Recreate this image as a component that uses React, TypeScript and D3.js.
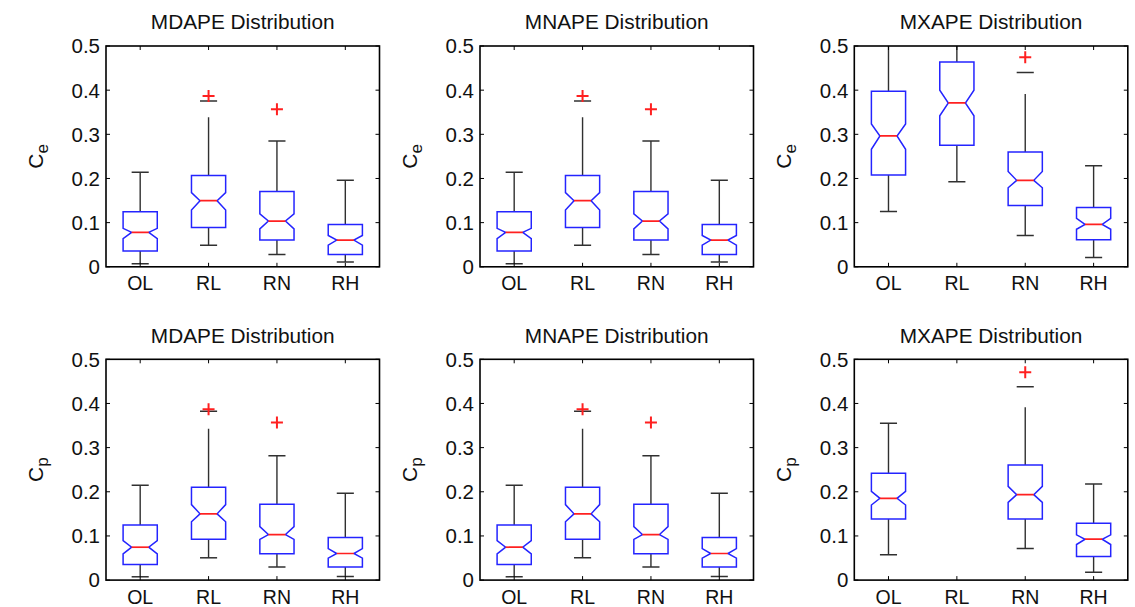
import React from "react";
import * as d3 from "d3";

// ---------- categories & ticks ----------
const categories = ["OL", "RL", "RN", "RH"];
const yTicks = [0, 0.1, 0.2, 0.3, 0.4, 0.5];
const titles = ["MDAPE Distribution", "MNAPE Distribution", "MXAPE Distribution"];
const rowSubscripts = ["e", "p"];

// ---------- Ce, MDAPE / MNAPE ----------
const ceMdLo = [0.007, 0.049, 0.028, 0.0106];
const ceMdQ1 = [0.0355, 0.0892, 0.0605, 0.028];
const ceMdMed = [0.078, 0.1497, 0.1036, 0.0605];
const ceMdQ3 = [0.1247, 0.207, 0.1708, 0.096];
const ceMdHi = [0.214, 0.3757, 0.285, 0.196];
const ceMdLineHi = [0.214, 0.3386, 0.285, 0.196];
const ceMdNotchLo = [0.064, 0.1285, 0.086, 0.049];
const ceMdNotchHi = [0.087, 0.168, 0.12, 0.071];
const ceMdOutliers = [[], [0.387], [0.357], []];

// ---------- Ce, MXAPE ----------
const ceMxLo = [0.1255, 0.1927, 0.071, 0.0212];
const ceMxQ1 = [0.2079, 0.275, 0.139, 0.0612];
const ceMxMed = [0.2963, 0.371, 0.1958, 0.096];
const ceMxQ3 = [0.3976, 0.464, 0.26, 0.1345];
const ceMxHi = [0.56, 0.58, 0.44, 0.229];
const ceMxLineHi = [0.56, 0.58, 0.3915, 0.229];
const ceMxNotchLo = [0.266, 0.342, 0.179, 0.085];
const ceMxNotchHi = [0.3235, 0.4, 0.216, 0.1096];
const ceMxOutliers = [[], [], [0.4747], []];

// ---------- Cp, MDAPE / MNAPE ----------
const cpMdLo = [0.0075, 0.0505, 0.0294, 0.0083];
const cpMdQ1 = [0.0354, 0.0926, 0.0595, 0.0294];
const cpMdMed = [0.0745, 0.15, 0.1032, 0.0602];
const cpMdQ3 = [0.125, 0.21, 0.1717, 0.0964];
const cpMdHi = [0.2146, 0.3825, 0.2816, 0.1965];
const cpMdLineHi = [0.2146, 0.3426, 0.2816, 0.1965];
const cpMdNotchLo = [0.0595, 0.132, 0.092, 0.0497];
const cpMdNotchHi = [0.0896, 0.171, 0.121, 0.0715];
const cpMdOutliers = [[], [0.387], [0.357], []];

// ---------- Cp, MXAPE (no RL box) ----------
const cpMxLo = [0.0572, null, 0.0715, 0.018];
const cpMxQ1 = [0.1386, null, 0.1386, 0.0535];
const cpMxMed = [0.1852, null, 0.1935, 0.0926];
const cpMxQ3 = [0.2417, null, 0.2605, 0.1288];
const cpMxHi = [0.3554, null, 0.438, 0.2176];
const cpMxLineHi = [0.3554, null, 0.3916, 0.2176];
const cpMxNotchLo = [0.17, null, 0.176, 0.0806];
const cpMxNotchHi = [0.201, null, 0.2123, 0.1024];
const cpMxOutliers = [[], [], [0.4706], []];

type Stats = {
  lo: (number | null)[]; q1: (number | null)[]; med: (number | null)[]; q3: (number | null)[];
  hi: (number | null)[]; lineHi: (number | null)[]; nLo: (number | null)[]; nHi: (number | null)[];
  out: number[][];
};

const ceMd: Stats = { lo: ceMdLo, q1: ceMdQ1, med: ceMdMed, q3: ceMdQ3, hi: ceMdHi, lineHi: ceMdLineHi, nLo: ceMdNotchLo, nHi: ceMdNotchHi, out: ceMdOutliers };
const ceMx: Stats = { lo: ceMxLo, q1: ceMxQ1, med: ceMxMed, q3: ceMxQ3, hi: ceMxHi, lineHi: ceMxLineHi, nLo: ceMxNotchLo, nHi: ceMxNotchHi, out: ceMxOutliers };
const cpMd: Stats = { lo: cpMdLo, q1: cpMdQ1, med: cpMdMed, q3: cpMdQ3, hi: cpMdHi, lineHi: cpMdLineHi, nLo: cpMdNotchLo, nHi: cpMdNotchHi, out: cpMdOutliers };
const cpMx: Stats = { lo: cpMxLo, q1: cpMxQ1, med: cpMxMed, q3: cpMxQ3, hi: cpMxHi, lineHi: cpMxLineHi, nLo: cpMxNotchLo, nHi: cpMxNotchHi, out: cpMxOutliers };

const panelStats: Stats[][] = [
  [ceMd, ceMd, ceMx],
  [cpMd, cpMd, cpMx],
];

// ---------- layout ----------
const W = 1135, H = 607;
const colLefts = [106, 480, 854.3];
const rowTops = [46, 359.3];
const axW = 273.5;
const axH = 220.8;
const FONT = "'Liberation Sans', Arial, Helvetica, sans-serif";
const BLUE = "#2424ff";
const RED = "#ff2020";
const WHISK = "#303030";

function Panel({ row, col }: { row: number; col: number }) {
  const left = colLefts[col];
  const top = rowTops[row];
  const st = panelStats[row][col];
  const x = d3.scaleLinear().domain([0.5, 4.5]).range([left, left + axW]);
  const y = d3.scaleLinear().domain([0, 0.5]).range([top + axH, top]);
  const clipId = `clip-${row}-${col}`;
  const boxHalf = x(0.25) - x(0);
  const capHalf = x(0.125) - x(0);
  const tick = 4;

  return (
    <g>
      <defs>
        <clipPath id={clipId}>
          <rect x={left} y={top} width={axW} height={axH} />
        </clipPath>
      </defs>
      {/* title */}
      <text x={left + axW / 2} y={top - 16.7} textAnchor="middle" fontSize={20.8} fontFamily={FONT} fill="#111">
        {titles[col]}
      </text>
      {/* y label */}
      <text
        transform={`translate(${left - 63},${top + axH / 2}) rotate(-90)`}
        textAnchor="middle"
        fontSize={21}
        fontFamily={FONT}
        fill="#111"
      >
        C<tspan fontSize={17} dy={5}>{rowSubscripts[row]}</tspan>
      </text>
      {/* boxes */}
      <g clipPath={`url(#${clipId})`}>
        {categories.map((c, i) => {
          const q1 = st.q1[i];
          if (q1 == null) return null;
          const q3 = st.q3[i] as number;
          const med = st.med[i] as number;
          const lo = st.lo[i] as number;
          const hi = st.hi[i] as number;
          const lineHi = st.lineHi[i] as number;
          const nLo = st.nLo[i] as number;
          const nHi = st.nHi[i] as number;
          const xc = x(i + 1);
          const x0 = xc - boxHalf, x1 = xc + boxHalf;
          const nx0 = xc - boxHalf / 2, nx1 = xc + boxHalf / 2;
          const pts: [number, number][] = [
            [x0, y(q3)], [x1, y(q3)], [x1, y(nHi)], [nx1, y(med)], [x1, y(nLo)],
            [x1, y(q1)], [x0, y(q1)], [x0, y(nLo)], [nx0, y(med)], [x0, y(nHi)],
          ];
          const line = d3.line();
          return (
            <g key={c}>
              <line x1={xc} x2={xc} y1={y(q3)} y2={y(lineHi)} stroke={WHISK} strokeWidth={1.4} />
              <line x1={xc} x2={xc} y1={y(q1)} y2={y(lo)} stroke={WHISK} strokeWidth={1.4} />
              <line x1={xc - capHalf} x2={xc + capHalf} y1={y(hi)} y2={y(hi)} stroke={WHISK} strokeWidth={1.5} />
              <line x1={xc - capHalf} x2={xc + capHalf} y1={y(lo)} y2={y(lo)} stroke={WHISK} strokeWidth={1.5} />
              <path d={(line(pts) as string) + "Z"} fill="none" stroke={BLUE} strokeWidth={1.5} />
              <line x1={nx0} x2={nx1} y1={y(med)} y2={y(med)} stroke={RED} strokeWidth={1.7} />
              {st.out[i].map((v, k) => (
                <g key={k} stroke={RED} strokeWidth={2}>
                  <line x1={xc - 6} x2={xc + 6} y1={y(v)} y2={y(v)} />
                  <line x1={xc} x2={xc} y1={y(v) - 6} y2={y(v) + 6} />
                </g>
              ))}
            </g>
          );
        })}
      </g>
      {/* axis box */}
      <rect x={left} y={top} width={axW} height={axH} fill="none" stroke="#000" strokeWidth={1.6} />
      {/* y ticks */}
      {yTicks.map((t) => (
        <g key={t}>
          <line x1={left} x2={left + tick} y1={y(t)} y2={y(t)} stroke="#000" strokeWidth={1} />
          <line x1={left + axW} x2={left + axW - tick} y1={y(t)} y2={y(t)} stroke="#000" strokeWidth={1} />
          <text x={left - 6} y={y(t)} dy="0.36em" textAnchor="end" fontSize={20.5} fontFamily={FONT} fill="#111">
            {d3.format("")(t)}
          </text>
        </g>
      ))}
      {/* x ticks */}
      {categories.map((c, i) => (
        <g key={c}>
          <line x1={x(i + 1)} x2={x(i + 1)} y1={top + axH} y2={top + axH - tick} stroke="#000" strokeWidth={1} />
          <line x1={x(i + 1)} x2={x(i + 1)} y1={top} y2={top + tick} stroke="#000" strokeWidth={1} />
          <text x={x(i + 1)} y={top + axH + 23.5} textAnchor="middle" fontSize={19.5} fontFamily={FONT} fill="#111">
            {c}
          </text>
        </g>
      ))}
    </g>
  );
}

export default function App() {
  return (
    <svg
      width={W}
      height={H}
      viewBox={`0 0 ${W} ${H}`}
      style={{ position: "absolute", left: 0, top: 0, display: "block", background: "#fff" }}
    >
      <rect width={W} height={H} fill="#fff" />
      {[0, 1].map((r) => [0, 1, 2].map((c) => <Panel key={`${r}-${c}`} row={r} col={c} />))}
    </svg>
  );
}
